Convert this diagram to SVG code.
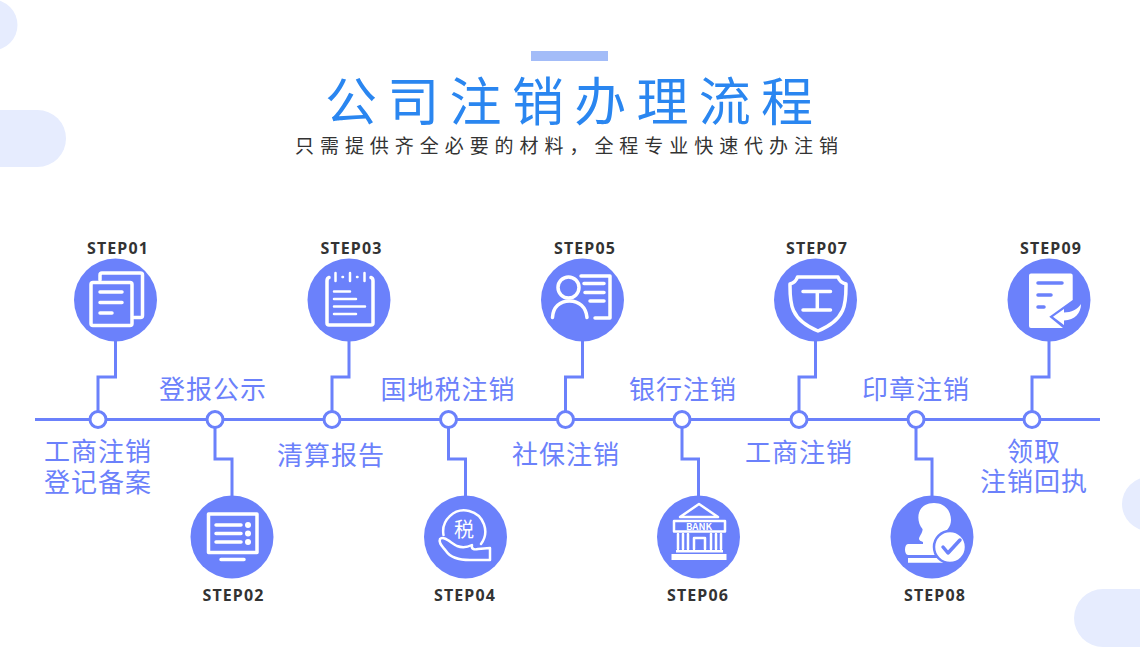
<svg xmlns="http://www.w3.org/2000/svg" width="1140" height="663" viewBox="0 0 1140 663">
<style>
text{font-family:"Noto Sans CJK SC","Noto Sans",sans-serif}
.bg{fill:#e6ecfe}
.line{fill:none;stroke:#6b81fb;stroke-width:3}
.dot{fill:#fff;stroke:#6b81fb;stroke-width:3}
.disc{fill:#6b81fb}
.lab{font-size:26px;fill:#6b81fb;text-anchor:middle;letter-spacing:1px}
.step{font-family:"Noto Sans",sans-serif;font-size:16px;font-weight:700;fill:#333;text-anchor:middle;letter-spacing:1.1px}
.w{fill:none;stroke:#fff;stroke-width:3.5;stroke-linecap:round;stroke-linejoin:round}
.t{fill:none;stroke:#fff;stroke-width:2.5;stroke-linecap:round;stroke-linejoin:round}
.s{fill:#fff}
.b{fill:none;stroke:#6b81fb;stroke-width:3.5;stroke-linecap:round;stroke-linejoin:round}
</style>
<rect width="1140" height="663" fill="#fff"/>
<g id="background">
<circle class="bg" cx="-8" cy="25" r="25.500"/>
<rect class="bg" x="-40" y="110" width="106" height="57" rx="28.5"/>
<rect class="bg" x="1122" y="477" width="60" height="54" rx="27"/>
<rect class="bg" x="1074" y="589" width="110" height="58" rx="29"/>
</g>
<g id="header">
<rect x="531" y="51" width="77" height="10" fill="#a3bcf8"/>
<text x="325" y="121" font-size="52" fill="#2a86f0" letter-spacing="10.300">公司注销办理流程</text>
<text x="295" y="153" font-size="19" fill="#333" letter-spacing="5.950">只需提供齐全必要的材料，全程专业快速代办注销</text>
</g>
<g id="connectors">
<path class="line" stroke-width="2.500" d="M35 419.500H1100"/>
<path class="line" d="M115.500 341V377H98V419"/>
<path class="line" d="M349 341V377H332V419"/>
<path class="line" d="M582.500 341V377H565.500V419"/>
<path class="line" d="M815.500 341V377H799V419"/>
<path class="line" d="M1049 341V377H1032V419"/>
<path class="line" d="M215 420V459H232V496"/>
<path class="line" d="M448.500 420V459H465.500V496"/>
<path class="line" d="M682 420V459H698.500V496"/>
<path class="line" d="M916 420V459H932V496"/>
</g>
<g id="step01"><text class="step" x="118" y="254">STEP01</text><circle class="disc" cx="115.500" cy="300" r="41.500"/>
<path class="w" d="M100 280V275a2 2 0 0 1 2-2H140.500a2 2 0 0 1 2 2V315.500a2 2 0 0 1-2 2H134"/>
<rect class="w" x="91" y="282.500" width="41" height="43" rx="2"/>
<path class="w" d="M100 292H122M100 302.500H122M100 313H112"/>
<circle class="dot" cx="98" cy="419.500" r="8"/><text class="lab" y="461"><tspan x="98">工商注销</tspan><tspan x="98" dy="31">登记备案</tspan></text></g>
<g id="step02"><text class="step" x="233.500" y="601">STEP02</text><circle class="disc" cx="232" cy="537" r="41.500"/>
<rect class="w" x="208.500" y="514" width="48.500" height="38.500" stroke-linecap="butt"/>
<path class="w" d="M216 525H241M216 533.500H241M216 542H241M221 559.500H244"/>
<circle class="s" cx="248" cy="525" r="3"/><circle class="s" cx="248" cy="533.500" r="3"/><circle class="s" cx="248" cy="542" r="3"/>
<circle class="dot" cx="215" cy="419.500" r="8"/><text class="lab" x="213" y="399">登报公示</text></g>
<g id="step03"><text class="step" x="351.500" y="254">STEP03</text><circle class="disc" cx="349" cy="300" r="41.500"/>
<path class="w" d="M329 277.500Q327 278 327 281V323a2 2 0 0 0 2 2H371a2 2 0 0 0 2-2V281Q373 278 371 277.500"/>
<path class="t" stroke-width="3" d="M335.500 273V281M350 273V281M364.500 273V281M342.500 277H343M357 277H357.500"/>
<path class="t" stroke-width="3" d="M334 291.500H350M334 299H356M334 306.500H365M334 314H356"/>
<circle class="dot" cx="332" cy="419.500" r="8"/><text class="lab" x="331" y="465">清算报告</text></g>
<g id="step04"><text class="step" x="465" y="601">STEP04</text><circle class="disc" cx="465.500" cy="537" r="41.500"/>
<path class="t" d="M443.500 535A21 21 0 1 1 481 544"/>
<text x="464" y="537" font-size="20" fill="#fff" text-anchor="middle">税</text>
<path class="t" d="M440 539C443 535 451 543 457 546C462 548 468 547 472 545C471 549 474 550 478 549L490 548V560H470C458 560 450 557 446 551C443 547 438 543 440 539Z"/>
<circle class="dot" cx="448.500" cy="419.500" r="8"/><text class="lab" x="448" y="399">国地税注销</text></g>
<g id="step05"><text class="step" x="585" y="254">STEP05</text><circle class="disc" cx="582.500" cy="300" r="41.500"/>
<circle class="w" cx="568.500" cy="287.500" r="10.500"/>
<path class="w" d="M552.500 317.500C553 307 560 301 569.500 301C579 301 586 307 587 317.500"/>
<path class="w" d="M581 276H610V318H595"/>
<path class="w" stroke-linecap="butt" d="M584 283.500H604M585 292.500H604M590 301H604"/>
<circle class="dot" cx="565.500" cy="419.500" r="8"/><text class="lab" x="566" y="464">社保注销</text></g>
<g id="step06"><text class="step" x="698" y="601">STEP06</text><circle class="disc" cx="698.500" cy="537" r="41.500"/>
<path class="t" d="M680 517L699 504L718 517Z"/>
<rect class="t" x="674" y="521" width="51" height="10.500" stroke-width="2"/>
<text x="699" y="530" font-family="Liberation Sans,sans-serif" font-size="9.500" font-weight="700" fill="#fff" text-anchor="middle">BANK</text>
<path class="t" stroke-linecap="butt" stroke-width="2" d="M678 534V549M683 534V549M688 534V549M711 534V549M716 534V549M721 534V549"/>
<path class="t" stroke-width="2" d="M694 549V538H705V549"/>
<rect class="s" x="676" y="550" width="47" height="2.500"/><rect class="s" x="671.500" y="554" width="55" height="6"/>
<circle class="dot" cx="682" cy="419.500" r="8"/><text class="lab" x="683" y="399">银行注销</text></g>
<g id="step07"><text class="step" x="817" y="254">STEP07</text><circle class="disc" cx="815.500" cy="300" r="41.500"/>
<path class="w" d="M797.500 277H838C839 280 842 283 846 284C846 302 847 319 818 331C789 319 790 302 790 284C794 283 796.500 280 797.500 277Z"/>
<path class="w" stroke-width="3" stroke-linecap="butt" d="M803 291.500H830.500M803 310H830.500M817.300 291.500V310"/>
<circle class="dot" cx="799" cy="419.500" r="8"/><text class="lab" x="799" y="462">工商注销</text></g>
<g id="step08"><text class="step" x="935" y="601">STEP08</text><circle class="disc" cx="932" cy="537" r="41.500"/>
<path class="s" d="M934 503C945 503 951 511 951 520C951 527 946 532 941 535V546H923V542C920 541 918 540 919.500 537C921 534 923 531 922.500 529C915 520 917 503 934 503Z"/>
<path class="s" d="M908 544H945V555H908C904 555 904 544 908 544ZM908 558H945V562.700H908Z"/>
<circle class="s" cx="950" cy="547" r="16" stroke="#6b81fb" stroke-width="2.500"/>
<path class="b" d="M943 547L948 553L960 540"/>
<circle class="dot" cx="916" cy="419.500" r="8"/><text class="lab" x="916" y="399">印章注销</text></g>
<g id="step09"><text class="step" x="1051" y="254">STEP09</text><circle class="disc" cx="1049" cy="300" r="41.500"/>
<path class="s" d="M1031 273.500H1070.700a2 2 0 0 1 2 2V300L1049.300 316.700L1063 328H1031a2 2 0 0 1-2-2V275.500a2 2 0 0 1 2-2Z"/>
<path class="b" d="M1038 283H1062M1038 295H1051M1038 307H1044"/>
<path class="s" d="M1053 316.700L1064 309V312.500C1071 312.500 1078 309 1081 304C1081 313 1075 320 1064 320.500V325Z"/>
<circle class="dot" cx="1032" cy="419.500" r="8"/><text class="lab" y="461"><tspan x="1034">领取</tspan><tspan x="1034" dy="30">注销回执</tspan></text></g>
</svg>
